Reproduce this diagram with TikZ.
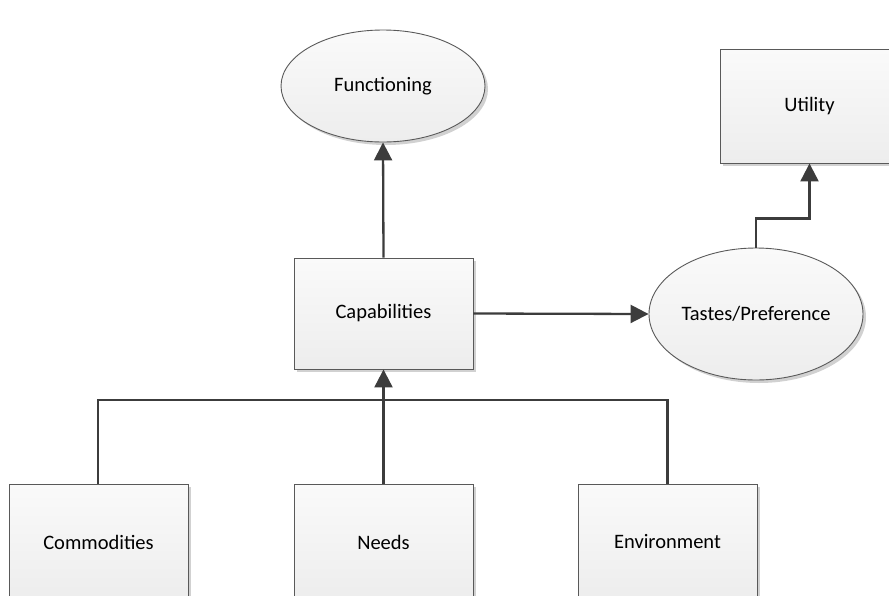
\documentclass[tikz,border=0pt]{standalone}
\usepackage{fontspec}
\setmainfont{Carlito}
\usetikzlibrary{shapes.geometric,arrows.meta,shadows}

\definecolor{linegray}{HTML}{3C3C3C}
\definecolor{boxtop}{HTML}{FAFAFA}
\definecolor{boxbottom}{HTML}{EDEDED}

\tikzset{
  box/.style={rectangle, draw=linegray!85, line width=0.9pt, top color=boxtop, bottom color=boxbottom,
    minimum width=179pt, minimum height=112pt, font=\fontsize{20.5}{24}\selectfont,
    drop shadow={fill=black!18, opacity=1, shadow xshift=3pt, shadow yshift=-3pt}},
  oval/.style={ellipse, draw=linegray!85, line width=0.9pt, top color=boxtop, bottom color=boxbottom,
    inner sep=0pt, font=\fontsize{20.5}{24}\selectfont,
    drop shadow={fill=black!18, opacity=1, shadow xshift=3pt, shadow yshift=-3pt}},
  conn/.style={draw=linegray, line width=2.3pt},
  arrow/.style={conn, -{Triangle[length=18pt,width=18pt]}}
}

\begin{document}
\begin{tikzpicture}[x=1pt,y=-1pt]
  \useasboundingbox (0,0) rectangle (889,595);
  \clip (0,0) rectangle (889,595);

  % ovale
  \node[oval, minimum width=204pt, minimum height=112pt] (func) at (383,86) {Functioning};
  \node[oval, minimum width=214pt, minimum height=132pt] (taste) at (756,314) {Tastes/Preference};

  % casete
  \node[box, minimum height=114pt] (util) at (809.5,106) {Utility};
  \node[box, minimum height=111pt] (cap) at (383.5,313.5) {Capabilities};
  \node[box, minimum height=116pt] (comm) at (98.5,542) {Commodities};
  \node[box, minimum height=116pt] (needs) at (383.5,542) {Needs};
  \node[box, minimum height=116pt] (env) at (667.5,542) {Environment};

  % intrarile
  \coordinate (bus) at (383.5,400);
  \draw[conn] (comm.north -| 98,0) |- (bus) -| (env.north);
  \draw[arrow] (needs.north) -- (cap.south);

  % iesirile
  \draw[arrow] (cap.north) -- (func.south);
  \draw[arrow] (cap.east) -- (taste.west);
  \draw[arrow] (taste.north) -- ++(0,-29) -| (util.south);
\end{tikzpicture}
\end{document}
